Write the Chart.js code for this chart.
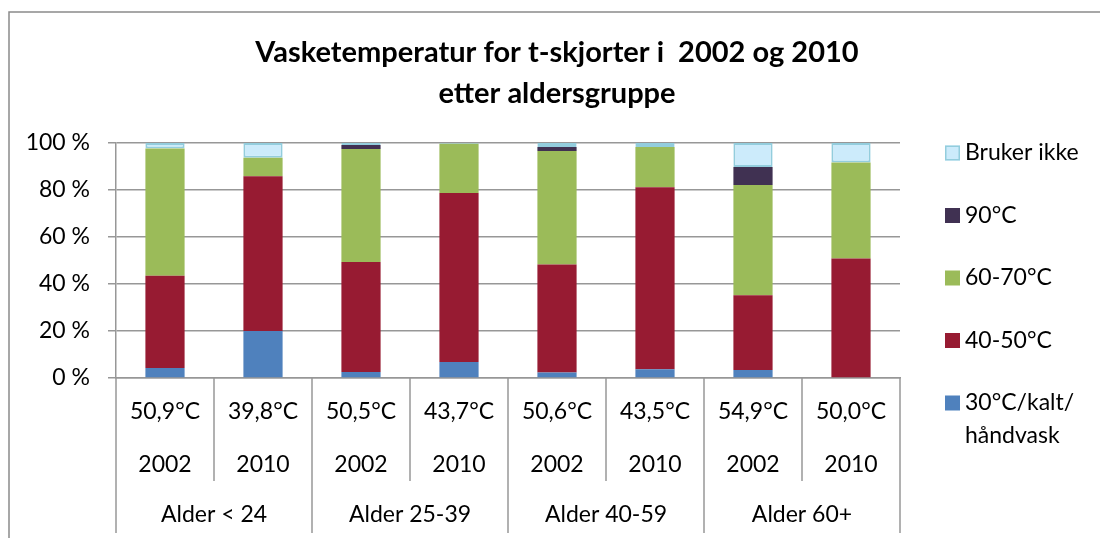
<!DOCTYPE html>
<html><head><meta charset="utf-8">
<script src="https://cdn.jsdelivr.net/npm/chart.js@4/dist/chart.umd.min.js"></script>
<style>html,body{margin:0;padding:0;background:#fff;} canvas{display:block;}</style>
</head><body>
<canvas id="c" width="1100" height="538"></canvas>
<script>
const tempLabels = ['50,9°C','39,8°C','50,5°C','43,7°C','50,6°C','43,5°C','54,9°C','50,0°C'];
const yearLabels = ['2002','2010','2002','2010','2002','2010','2002','2010'];
const groupLabels = ['Alder < 24','Alder 25-39','Alder 40-59','Alder 60+'];
const yTickLabels = ['0 %','20 %','40 %','60 %','80 %','100 %'];
const seriesNames = ['30°C/kalt/ håndvask','40-50°C','60-70°C','90°C','Bruker ikke'];
const kaltValues   = [4.3, 20.0, 2.6, 6.8, 2.3, 3.7, 3.4, 0.0];
const v4050Values  = [39.2, 65.8, 46.8, 71.9, 46.0, 77.5, 31.8, 50.8];
const v6070Values  = [54.2, 7.9, 48.0, 21.0, 48.3, 17.1, 46.9, 40.9];
const v90Values    = [0.0, 0.0, 1.7, 0.0, 1.7, 0.0, 7.7, 0.0];
const brukerValues = [2.3, 6.3, 0.9, 0.3, 1.7, 1.7, 10.2, 8.3];

const FONT = 'Lato';
const GRAY = '#979797';
const barLabels = tempLabels.map((t, i) => [t, yearLabels[i]]);

const frame = {
  id: 'frame',
  beforeDraw(chart) {
    const ctx = chart.ctx;
    ctx.save();
    ctx.fillStyle = '#fff';
    ctx.fillRect(0, 0, chart.width, chart.height);
    ctx.strokeStyle = '#8a8a8a';
    ctx.lineWidth = 1.5;
    ctx.strokeRect(9, 12, chart.width + 100, chart.height + 100);
    ctx.restore();
  }
};

const separators = {
  id: 'separators',
  afterDraw(chart) {
    const xs = chart.scales.x, x2 = chart.scales.x2, ca = chart.chartArea;
    const ctx = chart.ctx;
    ctx.save();
    ctx.strokeStyle = GRAY;
    ctx.lineWidth = 1.5;
    for (let i = 0; i <= barLabels.length; i++) {
      const px = Math.round(xs.getPixelForValue(i - 0.5));
      const bottom = (i % 2 === 0) ? x2.bottom - 5 : xs.bottom - 4;
      ctx.beginPath();
      ctx.moveTo(px, ca.bottom);
      ctx.lineTo(px, bottom);
      ctx.stroke();
    }
    ctx.restore();
  }
};

const customLegend = {
  id: 'customLegend',
  afterDraw(chart) {
    const ctx = chart.ctx, ca = chart.chartArea;
    ctx.save();
    ctx.font = '23px ' + FONT;
    ctx.textBaseline = 'middle';
    ctx.textAlign = 'left';
    let y = ca.top + 10;
    const dss = chart.data.datasets.slice().reverse();
    dss.forEach(ds => {
      const words = ds.label.split(' ');
      const lines = [];
      let cur = '';
      words.forEach(w => {
        const t = cur ? cur + ' ' + w : w;
        if (cur && ctx.measureText(t).width > 130) { lines.push(cur); cur = w; } else cur = t;
      });
      lines.push(cur);
      const sx = ca.right + 45, s = 15;
      ctx.fillStyle = ds.backgroundColor;
      ctx.fillRect(sx, y - s / 2, s, s);
      if (ds.borderWidth) {
        ctx.strokeStyle = ds.borderColor;
        ctx.lineWidth = 1.5;
        ctx.strokeRect(sx + 0.75, y - s / 2 + 0.75, s - 1.5, s - 1.5);
      }
      ctx.fillStyle = '#000';
      lines.forEach((l, j) => ctx.fillText(l, ca.right + 65, y + j * 33));
      y += 62.5;
    });
    ctx.restore();
  }
};

const colors = ['#4F81BD', '#971B32', '#9BBB59', '#403152', '#CCEBFB'];
const values = [kaltValues, v4050Values, v6070Values, v90Values, brukerValues];

new Chart(document.getElementById('c'), {
  type: 'bar',
  data: {
    labels: barLabels,
    datasets: values.map((v, i) => ({
      label: seriesNames[i],
      data: v,
      backgroundColor: colors[i],
      borderColor: i === 4 ? '#93CDDD' : colors[i],
      borderWidth: i === 4 ? 2 : 0,
      borderSkipped: false,
      categoryPercentage: 0.8,
      barPercentage: 0.5,
      xAxisID: 'x',
      yAxisID: 'y'
    }))
  },
  options: {
    responsive: false,
    animation: false,
    devicePixelRatio: 1,
    layout: { padding: { left: 14, right: 0, top: 0, bottom: 0 } },
    plugins: {
      legend: { display: false },
      tooltip: { enabled: false },
      title: {
        display: true,
        text: ['Vasketemperatur for t-skjorter i  2002 og 2010', 'etter aldersgruppe'],
        color: '#000',
        font: { family: FONT, weight: 'bold', size: 29, lineHeight: 41 / 29 },
        padding: { top: 32, bottom: 29 }
      }
    },
    scales: {
      x: {
        stacked: true,
        position: 'bottom',
        weight: 0,
        grid: { display: false, drawTicks: false },
        border: { display: true, color: GRAY, width: 1.5 },
        ticks: { color: '#000', font: { family: FONT, size: 23, lineHeight: 53 / 23 }, padding: 7.5, autoSkip: false, maxRotation: 0 },
        afterFit: s => { s.height = 107; }
      },
      x2: {
        type: 'category',
        labels: groupLabels,
        offset: true,
        position: 'bottom',
        weight: 1,
        grid: { display: false, drawTicks: false },
        border: { display: false },
        ticks: { color: '#000', font: { family: FONT, size: 23, lineHeight: 1.2 }, padding: 16, autoSkip: false, maxRotation: 0 },
        afterFit: s => { s.height = 53; }
      },
      y: {
        stacked: true,
        min: 0, max: 100,
        position: 'left',
        grid: { color: GRAY, lineWidth: 1.5, tickLength: 8, drawTicks: true },
        border: { display: true, color: GRAY, width: 1.5 },
        ticks: { stepSize: 20, color: '#000', padding: 18, font: { family: FONT, size: 23 }, callback: (v, i) => yTickLabels[i] },
        afterFit: s => { s.width = 102; }
      },
      yR: {
        type: 'linear',
        position: 'right',
        display: true,
        grid: { display: false, drawTicks: false },
        border: { display: false },
        ticks: { display: false },
        afterFit: s => { s.width = 200; }
      }
    }
  },
  plugins: [frame, separators, customLegend]
});
</script>
</body></html>
